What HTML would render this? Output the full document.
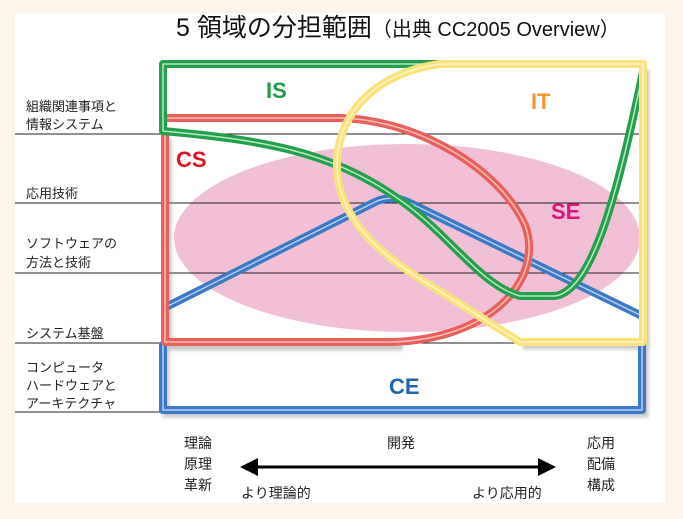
<!DOCTYPE html>
<html><head><meta charset="utf-8"><style>
html,body{margin:0;padding:0;background:#fdf5ea;}
svg{display:block;}
text{font-family:"Liberation Sans","Noto Sans CJK JP",sans-serif;}
</style></head><body>
<svg width="683" height="519" viewBox="0 0 683 519" xmlns="http://www.w3.org/2000/svg">
<defs>
<filter id="sh" x="-10%" y="-10%" width="120%" height="120%"><feGaussianBlur stdDeviation="1.5"/></filter>
</defs>
<rect x="15" y="13" width="650" height="490" fill="#fff"/>
<ellipse cx="407" cy="238" rx="233" ry="94" fill="#f2c0d6"/>
<g stroke="#222" stroke-width="1">
<line x1="15" y1="134" x2="640" y2="134"/>
<line x1="15" y1="203" x2="640" y2="203"/>
<line x1="15" y1="273" x2="640" y2="273"/>
<line x1="15" y1="343" x2="640" y2="343"/>
<line x1="15" y1="412" x2="640" y2="412"/>
</g>
<g fill="none" stroke="#888" stroke-width="7" opacity="0.45" filter="url(#sh)" transform="translate(3,4)">
<path d="M163,343 V410 H642 V343"/>
<path d="M165,135 V343 H400"/>
<path d="M643,66 V342 H520"/>
</g>
<g fill="none" stroke-linejoin="round" stroke-linecap="round">
<path d="M163,345 V410 H642 V345" stroke="#3a78c8" stroke-width="8"/>
<path d="M163,345 V410 H642 V345" stroke="#b8d0f0" stroke-width="1.5"/>
<path d="M168,306 L375,202 Q392,194 410,203 L640,315" stroke="#3a78c8" stroke-width="8"/>
<path d="M168,306 L375,202 Q392,194 410,203 L640,315" stroke="#b8d0f0" stroke-width="1.5"/>
<path d="M168,118 H340 C420,120 500,170 525,225 C545,280 490,340 390,342 H165 V135" stroke="#e8605a" stroke-width="8"/>
<path d="M168,118 H340 C420,120 500,170 525,225 C545,280 490,340 390,342 H165 V135" stroke="#f8c0b8" stroke-width="1.5"/>
<path d="M440,64 H163 V131 C260,140 330,150 400,200 C450,235 480,285 520,296 H555 C595,290 620,180 643,72" stroke="#23a04a" stroke-width="8"/>
<path d="M440,64 H163 V131 C260,140 330,150 400,200 C450,235 480,285 520,296 H555 C595,290 620,180 643,72" stroke="#b8e8c4" stroke-width="1.5"/>
<path d="M440,64 H643 V342 H520 L430,285 C380,255 340,220 337,170 C335,110 380,72 440,64" stroke="#fbe27a" stroke-width="8"/>
<path d="M440,64 H643 V342 H520 L430,285 C380,255 340,220 337,170 C335,110 380,72 440,64" stroke="#fff6d0" stroke-width="1.5"/>
</g>
<g font-weight="bold" font-size="22">
<text x="266" y="98" fill="#1e9a48">IS</text>
<text x="531" y="109" fill="#f0962a">IT</text>
<text x="176" y="167" fill="#e2141e">CS</text>
<text x="551" y="219" fill="#e0157e">SE</text>
<text x="389" y="394" fill="#1e64b0">CE</text>
</g>
<text x="176" y="36" font-size="25" fill="#111">5 領域の分担範囲<tspan font-size="20">（出典 CC2005 Overview）</tspan></text>
<g font-size="13" fill="#222">
<text x="26" y="111">組織関連事項と</text>
<text x="26" y="129">情報システム</text>
<text x="26" y="198">応用技術</text>
<text x="26" y="248">ソフトウェアの</text>
<text x="26" y="267">方法と技術</text>
<text x="26" y="338">システム基盤</text>
<text x="26" y="372">コンピュータ</text>
<text x="26" y="390">ハードウェアと</text>
<text x="26" y="408">アーキテクチャ</text>
</g>
<g font-size="14" fill="#222">
<text x="184" y="448">理論</text>
<text x="184" y="469">原理</text>
<text x="184" y="490">革新</text>
<text x="387" y="448">開発</text>
<text x="587" y="448">応用</text>
<text x="587" y="469">配備</text>
<text x="587" y="490">構成</text>
<text x="241" y="498">より理論的</text>
<text x="472" y="498">より応用的</text>
</g>
<line x1="255" y1="467" x2="540" y2="467" stroke="#000" stroke-width="3"/>
<polygon points="240,467 258,458 258,476" fill="#000"/>
<polygon points="556,467 538,458 538,476" fill="#000"/>
</svg>
</body></html>
